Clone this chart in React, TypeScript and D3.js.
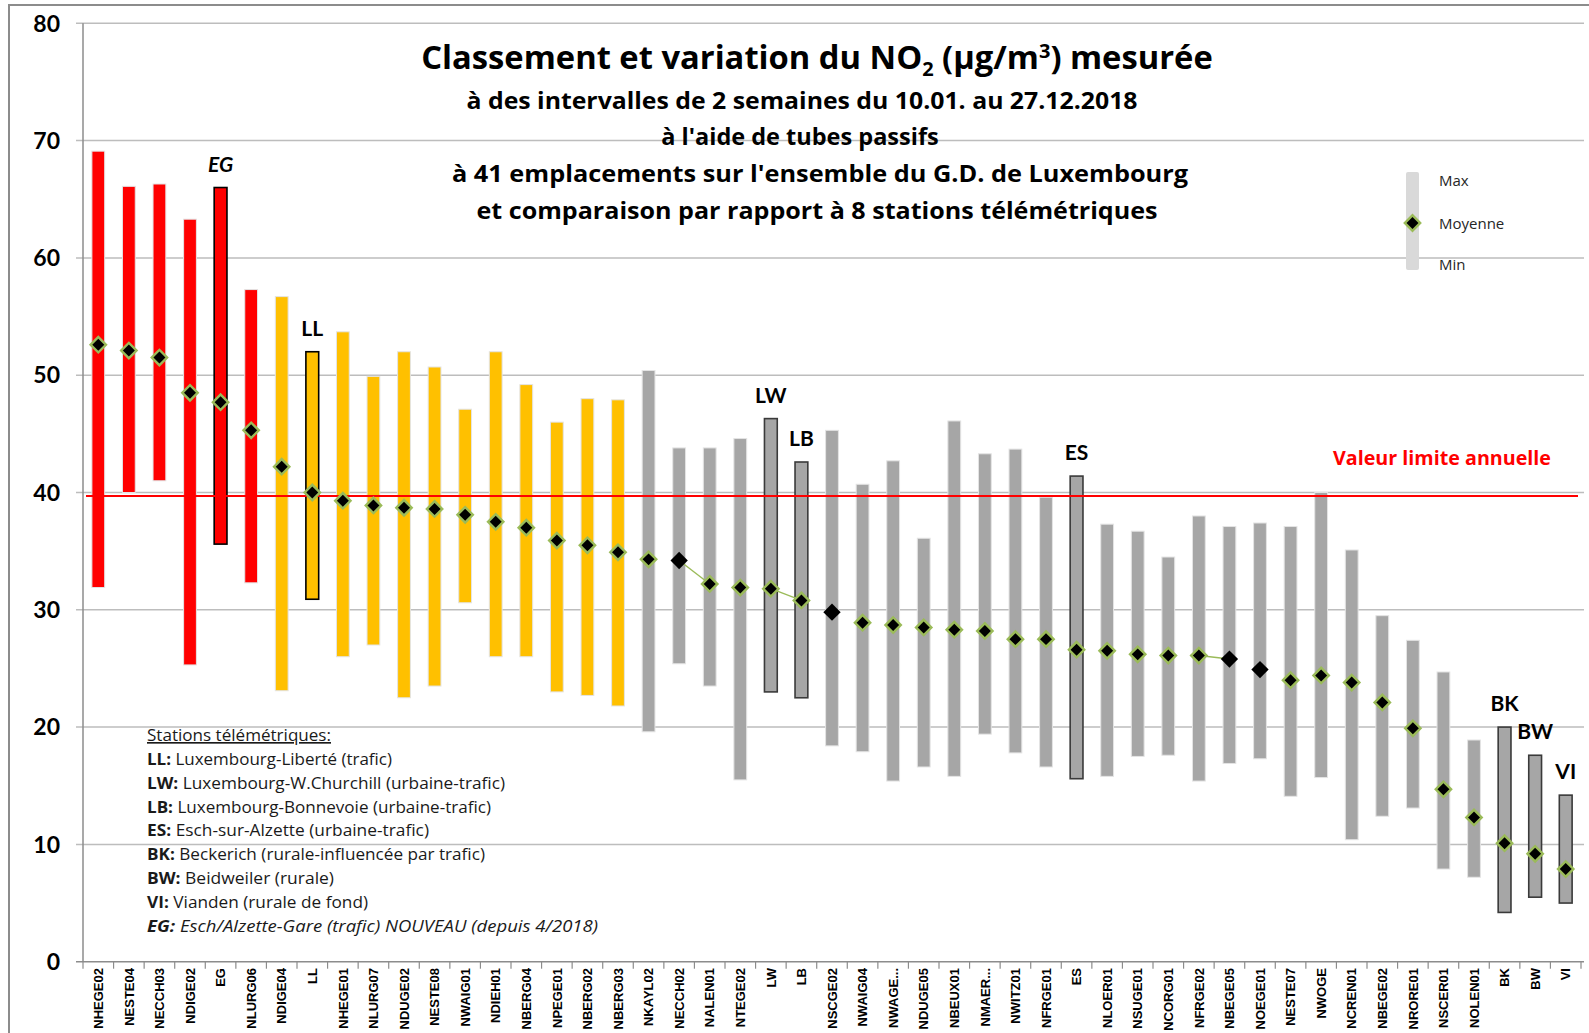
import React, { useEffect, useRef } from 'react';
import * as d3 from 'd3';

// stations, in ranking order
const stations = [
  'NHEGE02', 'NESTE04', 'NECCH03', 'NDIGE02', 'EG', 'NLURG06', 'NDIGE04', 'LL', 'NHEGE01', 'NLURG07',
  'NDUGE02', 'NESTE08', 'NWAIG01', 'NDIEH01', 'NBERG04', 'NPEGE01', 'NBERG02', 'NBERG03', 'NKAYL02', 'NECCH02',
  'NALEN01', 'NTEGE02', 'LW', 'LB', 'NSCGE02', 'NWAIG04', 'NWAGE...', 'NDUGE05', 'NBEUX01', 'NMAER...',
  'NWITZ01', 'NFRGE01', 'ES', 'NLOER01', 'NSUGE01', 'NCORG01', 'NFRGE02', 'NBEGE05', 'NOEGE01', 'NESTE07',
  'NWOGE', 'NCREN01', 'NBEGE02', 'NRORE01', 'NSCER01', 'NOLEN01', 'BK', 'BW', 'VI',
];

const maxValues = [
  69.1, 66.1, 66.3, 63.3, 66.0, 57.3, 56.7, 52.0, 53.7, 49.9,
  52.0, 50.7, 47.1, 52.0, 49.2, 46.0, 48.0, 47.9, 50.4, 43.8,
  43.8, 44.6, 46.3, 42.6, 45.3, 40.7, 42.7, 36.1, 46.1, 43.3,
  43.7, 39.6, 41.4, 37.3, 36.7, 34.5, 38.0, 37.1, 37.4, 37.1,
  40.0, 35.1, 29.5, 27.4, 24.7, 18.9, 20.0, 17.6, 14.2,
];

const minValues = [
  31.9, 40.0, 41.0, 25.3, 35.6, 32.3, 23.1, 30.9, 26.0, 27.0,
  22.5, 23.5, 30.6, 26.0, 26.0, 23.0, 22.7, 21.8, 19.6, 25.4,
  23.5, 15.5, 23.0, 22.5, 18.4, 17.9, 15.4, 16.6, 15.8, 19.4,
  17.8, 16.6, 15.6, 15.8, 17.5, 17.6, 15.4, 16.9, 17.3, 14.1,
  15.7, 10.4, 12.4, 13.1, 7.9, 7.2, 4.2, 5.5, 5.0,
];

const meanValues = [
  52.6, 52.1, 51.5, 48.5, 47.7, 45.3, 42.2, 40.0, 39.3, 38.9,
  38.7, 38.6, 38.1, 37.5, 37.0, 35.9, 35.5, 34.9, 34.3, 34.2,
  32.2, 31.9, 31.8, 30.8, 29.8, 28.9, 28.7, 28.5, 28.3, 28.2,
  27.5, 27.5, 26.6, 26.5, 26.2, 26.1, 26.1, 25.8, 24.9, 24.0,
  24.4, 23.8, 22.1, 19.9, 14.7, 12.3, 10.1, 9.2, 7.9,
];

// r = above limit, o = close to limit, g = below
const levels = [
  'r', 'r', 'r', 'r', 'r', 'r', 'o', 'o', 'o', 'o',
  'o', 'o', 'o', 'o', 'o', 'o', 'o', 'o', 'g', 'g',
  'g', 'g', 'g', 'g', 'g', 'g', 'g', 'g', 'g', 'g',
  'g', 'g', 'g', 'g', 'g', 'g', 'g', 'g', 'g', 'g',
  'g', 'g', 'g', 'g', 'g', 'g', 'g', 'g', 'g',
];

const telemetric = ['EG', 'LL', 'LW', 'LB', 'ES', 'BK', 'BW', 'VI'];
const plainMarkers = ['NECCH02', 'NSCGE02', 'NBEGE05', 'NOEGE01'];
const meanLinks = [['NECCH02', 'NALEN01'], ['LW', 'LB'], ['NFRGE02', 'NBEGE05']];

const yTicks = [0, 10, 20, 30, 40, 50, 60, 70, 80];
const limitValue = 39.7;

const notes = [
  ['LL', 'Luxembourg-Liberté (trafic)'],
  ['LW', 'Luxembourg-W.Churchill (urbaine-trafic)'],
  ['LB', 'Luxembourg-Bonnevoie (urbaine-trafic)'],
  ['ES', 'Esch-sur-Alzette (urbaine-trafic)'],
  ['BK', 'Beckerich (rurale-influencée par trafic)'],
  ['BW', 'Beidweiler (rurale)'],
  ['VI', 'Vianden (rurale de fond)'],
  ['EG', 'Esch/Alzette-Gare (trafic) NOUVEAU (depuis 4/2018)'],
];
// rendered widths of the note lines
const noteWidths = [245, 358, 344, 282, 338, 187, 221, 451];

const subtitle = [
  'à des intervalles de 2 semaines du 10.01. au 27.12.2018',
  "à l'aide de tubes passifs",
  "à 41 emplacements sur l'ensemble du G.D. de Luxembourg",
  'et comparaison par rapport à 8 stations télémétriques',
];
// centre and rendered width of each subtitle line (null = natural width)
const subtitleX = [802, 800, 820, 817];
const subtitleW = [671, null, 736, 681];

const colors = { r: '#FF0000', o: '#FFC000', g: '#A6A6A6' };
const FONT = 'Lato, "Open Sans", sans-serif';
const TEXT_FONT = '"Open Sans", Lato, sans-serif';

const App = () => {
  const svgRef = useRef(null);

  useEffect(() => {
    const svg = d3.select(svgRef.current);
    svg.selectAll('*').remove();

    const width = 1589;
    const height = 1033;

    const x = d3.scaleBand().domain(stations).range([83, 1581]).padding(0);
    const y = d3.scaleLinear().domain([0, 80]).range([961.7, 23.3]);
    const cx = (s) => x(s) + x.bandwidth() / 2;
    const barW = 12.8;

    svg.append('rect').attr('width', width).attr('height', height).attr('fill', '#fff');

    // chart frame
    svg.append('rect')
      .attr('x', 9).attr('y', 5)
      .attr('width', 1640).attr('height', 1100)
      .attr('fill', 'none').attr('stroke', '#8C8C8C').attr('stroke-width', 2);

    // grid + y axis
    svg.append('g').selectAll('line')
      .data(yTicks)
      .enter().append('line')
      .attr('x1', 76).attr('x2', 1584)
      .attr('y1', d => y(d)).attr('y2', d => y(d))
      .attr('stroke', d => d === 0 ? '#8C8C8C' : '#BDBDBD')
      .attr('stroke-width', 1.5);

    svg.append('line')
      .attr('x1', 83).attr('x2', 83).attr('y1', y(80)).attr('y2', y(0))
      .attr('stroke', '#8C8C8C').attr('stroke-width', 1.5);

    svg.append('g').selectAll('text')
      .data(yTicks)
      .enter().append('text')
      .attr('x', 60).attr('y', d => y(d))
      .attr('dy', '0.36em')
      .attr('text-anchor', 'end')
      .attr('font-family', FONT).attr('font-weight', 'bold').attr('font-size', 23)
      .attr('fill', '#000')
      .text(d => d);

    // x ticks + labels
    svg.append('g').selectAll('line')
      .data(stations.concat(['__end']))
      .enter().append('line')
      .attr('x1', (d, i) => 83 + i * x.step()).attr('x2', (d, i) => 83 + i * x.step())
      .attr('y1', y(0)).attr('y2', y(0) + 7)
      .attr('stroke', '#8C8C8C').attr('stroke-width', 1.2);

    svg.append('g').selectAll('text')
      .data(stations)
      .enter().append('text')
      .attr('transform', d => `translate(${cx(d)}, 968) rotate(-90)`)
      .attr('dy', '0.36em')
      .attr('text-anchor', 'end')
      .attr('font-family', '"Liberation Sans", Arial, sans-serif')
      .attr('font-weight', 'bold').attr('font-size', 13)
      .attr('fill', '#000')
      .text(d => d);

    // min-max bars
    svg.append('g').selectAll('rect')
      .data(stations)
      .enter().append('rect')
      .attr('x', d => cx(d) - barW / 2)
      .attr('y', (d, i) => y(maxValues[i]))
      .attr('width', barW)
      .attr('height', (d, i) => y(minValues[i]) - y(maxValues[i]))
      .attr('fill', (d, i) => colors[levels[i]])
      .attr('stroke', (d, i) => telemetric.includes(d) ? (levels[i] === 'g' ? '#3A3A3A' : '#000') : '#E4E4E4')
      .attr('stroke-width', d => telemetric.includes(d) ? 1.6 : 1);

    // telemetric station names above bars
    svg.append('g').selectAll('text')
      .data(stations.filter(s => telemetric.includes(s)))
      .enter().append('text')
      .attr('x', d => cx(d))
      .attr('y', d => y(maxValues[stations.indexOf(d)]) - 16)
      .attr('text-anchor', 'middle')
      .attr('font-family', FONT).attr('font-weight', 'bold').attr('font-size', 21)
      .attr('font-style', d => d === 'EG' ? 'italic' : 'normal')
      .attr('fill', '#000')
      .text(d => d);

    // limit value
    svg.append('line')
      .attr('x1', 86).attr('x2', 1578)
      .attr('y1', y(limitValue)).attr('y2', y(limitValue))
      .attr('stroke', '#FF0000').attr('stroke-width', 2.2);

    svg.append('text')
      .attr('x', 1333).attr('y', 465)
      .attr('font-family', TEXT_FONT).attr('font-weight', 'bold').attr('font-size', 19)
      .attr('textLength', 218).attr('lengthAdjust', 'spacingAndGlyphs')
      .attr('fill', '#FF0000')
      .text('Valeur limite annuelle');

    // mean connectors
    const line = d3.line().x(d => cx(d)).y(d => y(meanValues[stations.indexOf(d)]));
    svg.append('g').selectAll('path')
      .data(meanLinks)
      .enter().append('path')
      .attr('d', d => line(d))
      .attr('fill', 'none').attr('stroke', '#9BBB59').attr('stroke-width', 1.4);

    // mean markers
    const diamond = d3.symbol().type(d3.symbolSquare).size(118);
    const plainDiamond = d3.symbol().type(d3.symbolSquare).size(150);
    svg.append('g').selectAll('path')
      .data(stations)
      .enter().append('path')
      .attr('transform', (d, i) => `translate(${cx(d)}, ${y(meanValues[i])}) rotate(45)`)
      .attr('d', d => plainMarkers.includes(d) ? plainDiamond() : diamond())
      .attr('fill', '#000')
      .attr('stroke', d => plainMarkers.includes(d) ? 'none' : '#9BBB59')
      .attr('stroke-width', 2.4);

    // title
    const title = svg.append('text')
      .attr('x', 817).attr('y', 69)
      .attr('text-anchor', 'middle')
      .attr('font-family', TEXT_FONT).attr('font-weight', 'bold').attr('font-size', 31)
      .attr('fill', '#000');
    title.append('tspan').text('Classement et variation du NO');
    title.append('tspan').attr('font-size', 20).attr('dy', 7).text('2');
    title.append('tspan').attr('dy', -7).text(' (µg/m');
    title.append('tspan').attr('font-size', 20).attr('dy', -11).text('3');
    title.append('tspan').attr('dy', 11).text(') mesurée');
    const natural = (title.node() as SVGTextElement).getComputedTextLength();
    if (natural > 0) {
      title.attr('font-size', 31 * Math.min(1.08, 793 / natural));
    }

    svg.append('g').selectAll('text')
      .data(subtitle)
      .enter().append('text')
      .attr('x', (d, i) => subtitleX[i]).attr('y', (d, i) => 108.5 + i * 36.8)
      .attr('text-anchor', 'middle')
      .attr('font-family', TEXT_FONT).attr('font-weight', 'bold').attr('font-size', 23.5)
      .attr('fill', '#000')
      .each(function (d, i) {
        if (subtitleW[i]) {
          d3.select(this).attr('textLength', subtitleW[i]).attr('lengthAdjust', 'spacingAndGlyphs');
        }
      })
      .text(d => d);

    // legend
    const legend = svg.append('g');
    legend.append('rect')
      .attr('x', 1406).attr('y', 172).attr('width', 13).attr('height', 98).attr('rx', 2)
      .attr('fill', '#D9D9D9');
    legend.append('path')
      .attr('transform', 'translate(1412.5, 223) rotate(45)')
      .attr('d', diamond())
      .attr('fill', '#000').attr('stroke', '#9BBB59').attr('stroke-width', 2.4);
    legend.selectAll('text')
      .data([['Max', 186], ['Moyenne', 229], ['Min', 270]])
      .enter().append('text')
      .attr('x', 1439).attr('y', d => d[1])
      .attr('font-family', TEXT_FONT).attr('font-size', 15)
      .attr('fill', '#262626')
      .text(d => d[0]);

    // station notes
    const noteG = svg.append('g')
      .attr('font-family', TEXT_FONT).attr('font-size', 16.5).attr('fill', '#1A1A1A');
    noteG.append('text')
      .attr('x', 147).attr('y', 741)
      .attr('text-decoration', 'underline')
      .attr('textLength', 184).attr('lengthAdjust', 'spacingAndGlyphs')
      .text('Stations télémétriques:');
    const rows = noteG.selectAll('.note')
      .data(notes)
      .enter().append('text')
      .attr('class', 'note')
      .attr('x', 147).attr('y', (d, i) => 765 + i * 23.8)
      .attr('textLength', (d, i) => noteWidths[i]).attr('lengthAdjust', 'spacingAndGlyphs')
      .attr('font-style', d => d[0] === 'EG' ? 'italic' : 'normal');
    rows.append('tspan').attr('font-weight', 'bold').text(d => d[0] + ':');
    rows.append('tspan').text(d => ' ' + d[1]);
  }, []);

  return (
    <svg ref={svgRef} width={1589} height={1033}
      style={{ position: 'absolute', left: 0, top: 0, display: 'block' }} />
  );
};

export default App;
